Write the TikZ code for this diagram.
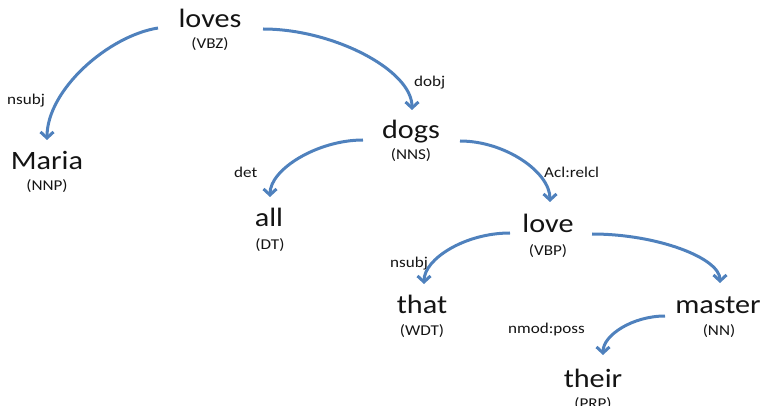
\documentclass[tikz,border=0pt]{standalone}
\usepackage{fontspec}
\setmainfont{Carlito}[FakeStretch=1.14]
\usetikzlibrary{arrows.meta,calc}
\definecolor{arcblue}{RGB}{79,129,189}
\definecolor{txt}{RGB}{20,20,20}
\tikzset{
  word/.style={anchor=base, inner sep=0pt, text=txt, font=\fontsize{26.5}{30}\selectfont},
  tag/.style={anchor=base, inner sep=0pt, text=txt, font=\fontsize{15}{18}\selectfont},
  rel/.style={anchor=base west, inner sep=0pt, text=txt, font=\fontsize{15}{18}\selectfont},
  dep/.style={draw=arcblue, line width=3pt, -{Straight Barb[length=6pt,width=13pt]}}
}
\begin{document}
\begin{tikzpicture}[x=1pt,y=-1pt]
\useasboundingbox (0,0) rectangle (766,406);
% words
\node[word] (loves) at (210,28) {loves};
\node[tag] (lovesT) at (210,49) {(VBZ)};
\node[word] (maria) at (47,170) {Maria};
\node[tag] (mariaT) at (47,191) {(NNP)};
\node[word] (dogs) at (411,139) {dogs};
\node[tag] (dogsT) at (411,160) {(NNS)};
\node[word] (all) at (269,227) {all};
\node[tag] (allT) at (270,250) {(DT)};
\node[word] (love) at (548,233) {love};
\node[tag] (loveT) at (548,255) {(VBP)};
\node[word] (that) at (422,313) {that};
\node[tag] (thatT) at (422,335) {(WDT)};
\node[word] (master) at (718,313) {master};
\node[tag] (masterT) at (719,335) {(NN)};
\node[word] (their) at (593,387) {their};
\node[tag] (theirT) at (593,408) {(PRP)};
% relation labels
\node[rel] (l1) at (7,105) {nsubj};
\node[rel] (l2) at (414,87) {dobj};
\node[rel] (l3) at (234,178) {det};
\node[rel] (l4) at (544,178) {Acl:relcl};
\node[rel] (l5) at (390,268) {nsubj};
\node[rel] (l6) at (508,333) {nmod:poss};
% arcs
\draw[dep] ($(loves.base)+(-52,0)$) .. controls +(-50,8) and +(0,-50) .. ($(maria.base)+(0,-30)$);
\draw[dep] ($(loves.base)+(53,1)$) .. controls +(70,0) and +(0,-40) .. ($(dogs.base)+(1,-29)$);
\draw[dep] ($(dogs.base)+(-48,1)$) .. controls +(-45,0) and +(0,-28) .. ($(all.base)+(1,-30)$);
\draw[dep] ($(dogs.base)+(49,2)$) .. controls +(45,0) and +(0,-30) .. ($(love.base)+(2,-31)$);
\draw[dep] ($(love.base)+(-38,0)$) .. controls +(-45,0) and +(0,-25) .. ($(that.base)+(2,-29)$);
\draw[dep] ($(love.base)+(44,1)$) .. controls +(65,0) and +(0,-25) .. ($(master.base)+(2,-30)$);
\draw[dep] ($(master.base)+(-53,3)$) .. controls +(-32,0) and +(0,-20) .. ($(their.base)+(10,-32)$);
\end{tikzpicture}
\end{document}
